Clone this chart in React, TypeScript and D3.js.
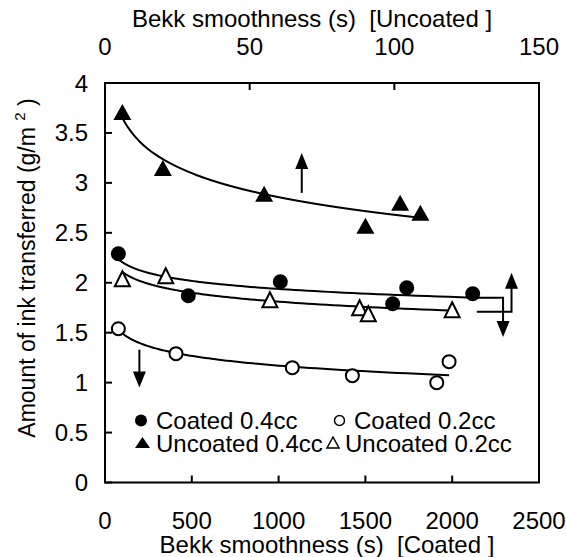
import React from "react";
import * as d3 from "d3";

const coatedX04 = [77, 480, 1010, 1657, 1738, 2118];
const coatedY04 = [2.29, 1.87, 2.01, 1.79, 1.95, 1.89];
const coatedX02 = [77, 409, 1079, 1425, 1911, 1982];
const coatedY02 = [1.54, 1.29, 1.15, 1.07, 1.0, 1.21];
const uncoatedX04 = [6, 20, 55, 90, 102, 109];
const uncoatedY04 = [3.71, 3.15, 2.89, 2.57, 2.8, 2.7];
const uncoatedX02 = [6, 21, 57, 88, 91, 120];
const uncoatedY02 = [2.04, 2.07, 1.83, 1.75, 1.69, 1.73];

const yTicks = [0, 0.5, 1, 1.5, 2, 2.5, 3, 3.5, 4];
const bottomTicks = [0, 500, 1000, 1500, 2000, 2500];
const topTicks = [0, 50, 100, 150];

const legendLabels = ["Coated 0.4cc", "Coated 0.2cc", "Uncoated 0.4cc", "Uncoated 0.2cc"];

const W = 566;
const H = 557;
const M = { left: 105, right: 539, top: 83, bottom: 482.5 };
const FONT = "'Liberation Sans', Arial, sans-serif";

function logFit(xs: number[], ys: number[]) {
  const lx = xs.map(Math.log);
  const mx = d3.mean(lx)!;
  const my = d3.mean(ys)!;
  let sxy = 0, sxx = 0;
  lx.forEach((v, i) => {
    sxy += (v - mx) * (ys[i] - my);
    sxx += (v - mx) * (v - mx);
  });
  const b = sxy / sxx;
  const a = my - b * mx;
  return (x: number) => a + b * Math.log(x);
}

export default function App() {
  const xB = d3.scaleLinear().domain([0, 2500]).range([M.left, M.right]);
  const xT = d3.scaleLinear().domain([0, 150]).range([M.left, M.right]);
  const y = d3.scaleLinear().domain([0, 4]).range([M.bottom, M.top]);

  const curve = (xs: number[], ys: number[], xs_: any) => {
    const f = logFit(xs, ys);
    const [lo, hi] = d3.extent(xs) as [number, number];
    const pts = d3.range(0, 101).map((i) => {
      const v = lo * Math.pow(hi / lo, i / 100);
      return [xs_(v), y(f(v))] as [number, number];
    });
    return { d: d3.line()(pts)!, f, hi };
  };

  const cC04 = curve(coatedX04, coatedY04, xB);
  const cC02 = curve(coatedX02, coatedY02, xB);
  const cU04 = curve(uncoatedX04, uncoatedY04, xT);
  const cU02 = curve(uncoatedX02, uncoatedY02, xT);

  const tri = (cx: number, cy: number, w: number, h: number) =>
    `M${cx},${cy - h / 2}L${cx - w / 2},${cy + h / 2}L${cx + w / 2},${cy + h / 2}Z`;

  const arrowHead = (x: number, yTip: number, dir: number) => {
    const hw = 6.5, hl = 16;
    return `M${x},${yTip}L${x - hw},${yTip - dir * hl}L${x + hw},${yTip - dir * hl}Z`;
  };

  const upX = xT(68), upY0 = y(2.9), upY1 = y(3.3);
  const dnX = xB(198), dnY0 = y(1.33), dnY1 = y(0.95);
  const bracketCx = xB(2293);
  const bracketCy = y(cC04.f(cC04.hi));
  const bracketCtip = y(1.457);
  const bracketUx0 = xT(128.5), bracketUx1 = xT(140.5);
  const bracketUy = y(1.71);
  const bracketUtip = y(2.1);

  const lw = 2;

  return (
    <svg width={W} height={H} style={{ position: "absolute", left: 0, top: 0, background: "#fff" }} fontFamily={FONT}>
      <rect x={0} y={0} width={W} height={H} fill="#fff" />
      <g fill="none" stroke="#000" strokeWidth={lw}>
        <path d={cC04.d} />
        <path d={cC02.d} />
        <path d={cU04.d} />
        <path d={cU02.d} />
      </g>
      {coatedX04.map((v, i) => (
        <circle key={"c4" + i} cx={xB(v)} cy={y(coatedY04[i])} r={7.5} fill="#000" />
      ))}
      {coatedX02.map((v, i) => (
        <circle key={"c2" + i} cx={xB(v)} cy={y(coatedY02[i])} r={6.5} fill="#fff" stroke="#000" strokeWidth={2} />
      ))}
      {uncoatedX04.map((v, i) => (
        <path key={"u4" + i} d={tri(xT(v), y(uncoatedY04[i]), 18, 16)} fill="#000" />
      ))}
      {uncoatedX02.map((v, i) => (
        <path key={"u2" + i} d={tri(xT(v), y(uncoatedY02[i]), 15, 15)} fill="#fff" stroke="#000" strokeWidth={2} />
      ))}
      <g stroke="#000" strokeWidth={lw} fill="none">
        <line x1={upX} y1={upY0} x2={upX} y2={upY1 + 14} />
        <line x1={dnX} y1={dnY0} x2={dnX} y2={dnY1 - 14} />
        <polyline points={`${xB(cC04.hi)},${bracketCy} ${bracketCx},${bracketCy} ${bracketCx},${bracketCtip - 14}`} />
        <polyline points={`${bracketUx0},${bracketUy} ${bracketUx1},${bracketUy} ${bracketUx1},${bracketUtip + 14}`} />
      </g>
      <g fill="#000">
        <path d={arrowHead(upX, upY1, -1)} />
        <path d={arrowHead(dnX, dnY1, 1)} />
        <path d={arrowHead(bracketCx, bracketCtip, 1)} />
        <path d={arrowHead(bracketUx1, bracketUtip, -1)} />
      </g>
      <rect x={M.left} y={M.top} width={M.right - M.left} height={M.bottom - M.top} fill="none" stroke="#000" strokeWidth={2} />
      <g stroke="#000" strokeWidth={2}>
        {yTicks.map((t) => (
          <line key={"yt" + t} x1={M.left} x2={M.left + 7} y1={y(t)} y2={y(t)} />
        ))}
        {bottomTicks.map((t) => (
          <line key={"bt" + t} x1={xB(t)} x2={xB(t)} y1={M.bottom} y2={M.bottom - 7} />
        ))}
        {topTicks.map((t) => (
          <line key={"tt" + t} x1={xT(t)} x2={xT(t)} y1={M.top} y2={M.top + 7} />
        ))}
      </g>
      <g fontSize={24} fill="#000">
        {yTicks.map((t) => (
          <text key={"yl" + t} x={88} y={y(t) + 8.5} textAnchor="end">
            {String(t)}
          </text>
        ))}
        {bottomTicks.map((t) => (
          <text key={"bl" + t} x={xB(t)} y={529} textAnchor="middle">
            {String(t)}
          </text>
        ))}
        {topTicks.map((t) => (
          <text key={"tl" + t} x={xT(t)} y={55} textAnchor="middle">
            {String(t)}
          </text>
        ))}
        <text x={312} y={27} textAnchor="middle" style={{ whiteSpace: "pre" }}>
          {"Bekk smoothness (s)  [Uncoated ]"}
        </text>
        <text x={327} y={553} textAnchor="middle" style={{ whiteSpace: "pre" }}>
          {"Bekk smoothness (s)  [Coated ]"}
        </text>
        <text transform={`translate(35,268) rotate(-90)`} textAnchor="middle" fontSize={23} style={{ whiteSpace: "pre" }}>
          {"Amount of ink transferred (g/m "}
          <tspan fontSize={15} dy={-10}>2</tspan>
          <tspan dy={10}>{" )"}</tspan>
        </text>
      </g>
      <g fontSize={24} fill="#000">
        <circle cx={141} cy={420.5} r={6} fill="#000" />
        <text x={156} y={429}>{legendLabels[0]}</text>
        <circle cx={339.5} cy={420.5} r={5} fill="#fff" stroke="#000" strokeWidth={1.5} />
        <text x={354} y={429}>{legendLabels[1]}</text>
        <path d={tri(142.5, 442.5, 15, 11)} fill="#000" />
        <text x={156} y={452}>{legendLabels[2]}</text>
        <path d={tri(333, 442.5, 12, 11)} fill="#fff" stroke="#000" strokeWidth={1.5} />
        <text x={345} y={452}>{legendLabels[3]}</text>
      </g>
    </svg>
  );
}
